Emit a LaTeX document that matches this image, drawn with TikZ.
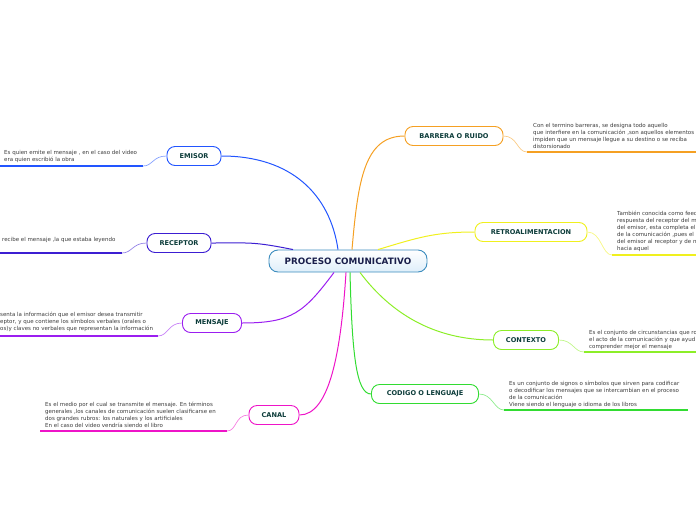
\documentclass[tikz,border=0pt]{standalone}
\usepackage{fontspec}
\setmainfont{DejaVu Sans}
\usepackage{xcolor}
\usepackage{tikz}
\usetikzlibrary{positioning}
\definecolor{cemisor}{RGB}{34,85,255}
\definecolor{creceptor}{RGB}{60,30,210}
\definecolor{cmensaje}{RGB}{155,30,240}
\definecolor{ccanal}{RGB}{238,20,200}
\definecolor{cbarrera}{RGB}{245,160,35}
\definecolor{cretro}{RGB}{240,240,30}
\definecolor{ccontexto}{RGB}{140,238,40}
\definecolor{ccodigo}{RGB}{50,220,50}
\definecolor{titulo}{RGB}{12,60,58}
\definecolor{tcentral}{RGB}{25,30,75}
\definecolor{bcentral}{RGB}{60,140,190}
\definecolor{fcentral}{RGB}{222,238,250}
\definecolor{textogris}{RGB}{60,60,60}

\begin{document}
\begin{tikzpicture}[x=1pt, y=-1pt,
      topic/.style={draw=#1, line width=0.9pt, rounded corners=8pt, fill=white,
                    minimum height=19pt, inner sep=0pt, text=titulo,
                    font=\fontsize{6.6}{7}\selectfont\bfseries},
      nota/.style={anchor=north west, align=left, inner sep=0pt, text=textogris,
                   font=\fontsize{5.5}{6.9}\selectfont},
      rama/.style={draw=#1, line width=1pt},
      enlace/.style={draw=#1!55, line width=0.7pt},
      subraya/.style={draw=#1, line width=1.6pt}]
    \useasboundingbox (0,0) rectangle (696,520);
    % nodo central
    \node[draw=bcentral, line width=0.9pt, rounded corners=9pt, top color=white,
          bottom color=fcentral, minimum width=158pt, minimum height=22pt,
          font=\fontsize{8.8}{9}\selectfont\bfseries, text=tcentral]
      (central) at (348,261) {PROCESO COMUNICATIVO};
    \foreach \nom/\x/\y/\w/\col/\lbl in {
        emisor/194/156/54/cemisor/EMISOR,
        receptor/179/243/64/creceptor/RECEPTOR,
        mensaje/212/323/59/cmensaje/MENSAJE,
        canal/274/415/50/ccanal/CANAL,
        barrera/454/136/98/cbarrera/BARRERA O RUIDO,
        retro/531/232/112/cretro/RETROALIMENTACION,
        contexto/526/340/65/ccontexto/CONTEXTO,
        codigo/425/394/107/ccodigo/CODIGO O LENGUAJE} {
      \node[topic=\col, minimum width=\w pt] (\nom) at (\x,\y) {\lbl};
    }
    % ramas principales
    \draw[rama=cemisor] (emisor.east) .. controls +(70,0) and +(-8,-55) .. ([xshift=-10pt]central.north);
    \draw[rama=creceptor] (receptor.east) .. controls +(40,0) and +(-40,-8) .. ([xshift=-55pt]central.north);
    \draw[rama=cmensaje] (mensaje.east) .. controls +(50,0) and +(-30,40) .. ([xshift=-14pt]central.south);
    \draw[rama=ccanal] (canal.east) .. controls +(30,0) and +(-5,80) .. ([xshift=-2pt]central.south);
    \draw[rama=cbarrera] (barrera.west) .. controls +(-40,0) and +(6,-70) .. ([xshift=4pt]central.north);
    \draw[rama=cretro] (retro.west) .. controls +(-40,0) and +(40,-12) .. ([xshift=30pt]central.north);
    \draw[rama=ccontexto] (contexto.west) .. controls +(-60,0) and +(30,40) .. ([xshift=12pt]central.south);
    \draw[rama=ccodigo] (codigo.west) .. controls +(-15,0) and +(2,80) .. ([xshift=2pt]central.south);
    % subramas con notas
    \coordinate (emA) at (143,166);   \coordinate (emB) at (0,166);
    \coordinate (reA) at (122,253);   \coordinate (reB) at (0,253);
    \coordinate (meA) at (158,336);   \coordinate (meB) at (0,336);
    \coordinate (caA) at (227,431);   \coordinate (caB) at (40,431);
    \coordinate (baA) at (527,152);   \coordinate (baB) at (696,152);
    \coordinate (rtA) at (612,255);   \coordinate (rtB) at (696,255);
    \coordinate (coA) at (584,352);   \coordinate (coB) at (696,352);
    \coordinate (cdA) at (504,410);   \coordinate (cdB) at (688,410);
    \draw[enlace=cemisor] (emisor.west) .. controls +(-14,0) and +(10,0) .. (emA);
    \draw[subraya=cemisor] (emA) -- (emB);
    \draw[enlace=creceptor] (receptor.west) .. controls +(-14,0) and +(10,0) .. (reA);
    \draw[subraya=creceptor] (reA) -- (reB);
    \draw[enlace=cmensaje] (mensaje.west) .. controls +(-14,0) and +(10,0) .. (meA);
    \draw[subraya=cmensaje] (meA) -- (meB);
    \draw[enlace=ccanal] (canal.west) .. controls +(-14,0) and +(10,0) .. (caA);
    \draw[subraya=ccanal] (caA) -- (caB);
    \draw[enlace=cbarrera] (barrera.east) .. controls +(14,0) and +(-10,0) .. (baA);
    \draw[subraya=cbarrera] (baA) -- (baB);
    \draw[enlace=cretro] (retro.east) .. controls +(14,0) and +(-10,0) .. (rtA);
    \draw[subraya=cretro] (rtA) -- (rtB);
    \draw[enlace=ccontexto] (contexto.east) .. controls +(14,0) and +(-10,0) .. (coA);
    \draw[subraya=ccontexto] (coA) -- (coB);
    \draw[enlace=ccodigo] (codigo.east) .. controls +(14,0) and +(-10,0) .. (cdA);
    \draw[subraya=ccodigo] (cdA) -- (cdB);
    \node[nota] (nEmisor) at (4,150) {Es quien emite el mensaje , en el caso del video\\era quien escribió la obra};
    \node[nota] (nReceptor) at (2,237) {recibe el mensaje ,la que estaba leyendo};
    \node[nota] (nMensaje) at (0,312) {senta la información que el emisor desea transmitir\\eptor, y que contiene los símbolos verbales (orales o\\os)y claves no verbales que representan la información};
    \node[nota] (nCanal) at (45,402) {Es el medio por el cual se transmite el mensaje. En términos\\generales ,los canales de comunicación suelen clasificarse en\\dos grandes rubros: los naturales y los artificiales\\En el caso del video vendría siendo el libro};
    \node[nota] (nBarrera) at (533,123) {Con el termino barreras, se designa todo aquello\\que interfiere en la comunicación ,son aquellos elementos\\impiden que un mensaje llegue a su destino o se reciba\\distorsionado};
    \node[nota] (nRetro) at (617,211) {También conocida como feed\\respuesta del receptor del m\\del emisor, esta completa el\\de la comunicación ,pues el\\del emisor al receptor y de n\\hacia aquel};
    \node[nota] (nContexto) at (589,330) {Es el conjunto de circunstancias que ro\\el acto de la comunicación y que ayud\\comprender mejor el mensaje};
    \node[nota] (nCodigo) at (509,381) {Es un conjunto de signos o símbolos que sirven para codificar\\o decodificar los mensajes que se intercambian en el proceso\\de la comunicación\\Viene siendo el lenguaje o idioma de los libros};
  \end{tikzpicture}
\end{document}
